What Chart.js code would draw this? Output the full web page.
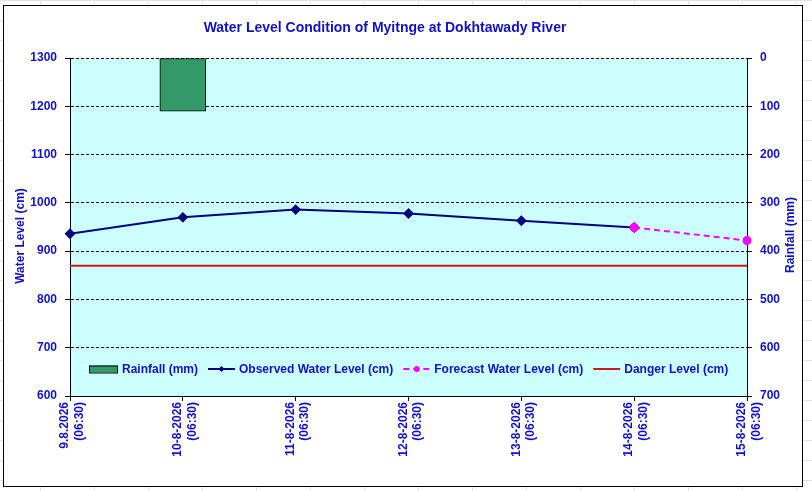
<!DOCTYPE html>
<html>
<head>
<meta charset="utf-8">
<script src="https://cdn.jsdelivr.net/npm/chart.js@4.4.1/dist/chart.umd.min.js"></script>
<style>
  html, body { margin: 0; padding: 0; }
  body {
    width: 812px; height: 491px; overflow: hidden;
    background-color: #fff;
    background-image: linear-gradient(to right, #e2e2e2 1px, transparent 1px),
                      linear-gradient(to bottom, #e2e2e2 1px, transparent 1px);
    background-size: 54px 20px;
    background-position: 40px 0;
  }
  #wrap { position: absolute; left: 0; top: 0; width: 812px; height: 491px; }
</style>
</head>
<body>
<div id="wrap"><canvas id="chart"></canvas></div>
<script>
const categories = [
    ['9.8.2026', '(06:30)'],
    ['10-8-2026', '(06:30)'],
    ['11-8-2026', '(06:30)'],
    ['12-8-2026', '(06:30)'],
    ['13-8-2026', '(06:30)'],
    ['14-8-2026', '(06:30)'],
    ['15-8-2026', '(06:30)']
];
const rainfall = [null, 110, null, null, null, null, null];
const observed = [936, 970, 986, 978, 963, 949, null];
const forecast = [null, null, null, null, null, 949, 922];
const danger = [870, 870, 870, 870, 870, 870, 870];

const TITLE = 'Water Level Condition of Myitnge at Dokhtawady River';
const BLUE = '#1010c8';
const FONT = '"Liberation Sans", Arial, sans-serif';

// frame, plot background, titles and the legend inside the plot
const decor = {
    id: 'decor',
    beforeDraw(chart) {
        const ctx = chart.ctx;
        const a = chart.chartArea;
        ctx.save();
        ctx.fillStyle = '#fff';
        ctx.fillRect(3, 5, 799, 481);
        ctx.strokeStyle = '#000';
        ctx.lineWidth = 1;
        ctx.strokeRect(3.5, 5.5, 799, 481);
        ctx.fillStyle = '#ccffff';
        ctx.fillRect(a.left, a.top, a.right - a.left, a.bottom - a.top);
        ctx.restore();
    },
    afterDraw(chart) {
        const ctx = chart.ctx;
        const a = chart.chartArea;
        const midY = (a.top + a.bottom) / 2;
        ctx.save();
        ctx.fillStyle = BLUE;
        ctx.textAlign = 'center';
        ctx.textBaseline = 'middle';
        ctx.font = 'bold 14px ' + FONT;
        ctx.fillText(TITLE, 385, 28);

        ctx.font = 'bold 12px ' + FONT;
        ctx.save();
        ctx.translate(21, midY + 9);
        ctx.rotate(-Math.PI / 2);
        ctx.fillText('Water Level (cm)', 0, 0);
        ctx.restore();
        ctx.save();
        ctx.translate(791, midY + 8);
        ctx.rotate(-Math.PI / 2);
        ctx.fillText('Rainfall (mm)', 0, 0);
        ctx.restore();

        // legend
        let x = a.left + 19;
        const y = a.bottom - 27;
        ctx.textAlign = 'left';
        chart.data.datasets.forEach(ds => {
            if (ds.type === 'bar') {
                ctx.fillStyle = ds.backgroundColor;
                ctx.fillRect(x, y - 3.5, 29, 7);
                ctx.strokeStyle = '#000';
                ctx.lineWidth = 1;
                ctx.strokeRect(x + 0.5, y - 3, 28, 7);
                x += 33;
            } else {
                ctx.strokeStyle = ds.borderColor;
                ctx.lineWidth = ds.borderWidth;
                ctx.setLineDash(ds.borderDash || []);
                ctx.beginPath();
                ctx.moveTo(x, y);
                ctx.lineTo(x + 27, y);
                ctx.stroke();
                ctx.setLineDash([]);
                const cx = x + 13.5;
                ctx.fillStyle = ds.pointBackgroundColor;
                if (ds.pointStyle === 'rectRot' && ds.pointRadius) {
                    ctx.beginPath();
                    ctx.moveTo(cx, y - 3);
                    ctx.lineTo(cx + 3, y);
                    ctx.lineTo(cx, y + 3);
                    ctx.lineTo(cx - 3, y);
                    ctx.closePath();
                    ctx.fill();
                } else if (ds.pointRadius) {
                    ctx.beginPath();
                    ctx.arc(cx, y, 3, 0, Math.PI * 2);
                    ctx.fill();
                }
                x += 31;
            }
            ctx.fillStyle = BLUE;
            ctx.fillText(ds.label, x, y + 1);
            x += ctx.measureText(ds.label).width + 10;
        });
        ctx.restore();
    }
};

const plainNumber = v => String(v);

new Chart(document.getElementById('chart'), {
    data: {
        labels: categories,
        datasets: [
            {
                type: 'bar',
                label: 'Rainfall (mm)',
                data: rainfall,
                yAxisID: 'y1',
                backgroundColor: '#339966',
                borderColor: '#000',
                borderWidth: 1,
                borderSkipped: false,
                barThickness: 46,
                order: 4
            },
            {
                type: 'line',
                label: 'Observed Water Level (cm)',
                data: observed,
                yAxisID: 'y',
                borderColor: '#000080',
                backgroundColor: '#000080',
                pointBackgroundColor: '#000080',
                pointBorderColor: '#000080',
                pointStyle: 'rectRot',
                pointRadius: 4,
                borderWidth: 2,
                tension: 0,
                order: 2
            },
            {
                type: 'line',
                label: 'Forecast Water Level (cm)',
                data: forecast,
                yAxisID: 'y',
                borderColor: '#ff00ff',
                backgroundColor: '#ff00ff',
                pointBackgroundColor: '#ff00ff',
                pointBorderColor: '#ff00ff',
                pointStyle: 'circle',
                pointRadius: 3.5,
                borderWidth: 2,
                borderDash: [6, 4],
                tension: 0,
                order: 1
            },
            {
                type: 'line',
                label: 'Danger Level (cm)',
                data: danger,
                yAxisID: 'y',
                borderColor: '#cc1a1a',
                backgroundColor: '#cc1a1a',
                pointRadius: 0,
                borderWidth: 2,
                tension: 0,
                order: 3
            }
        ]
    },
    options: {
        responsive: true,
        maintainAspectRatio: false,
        animation: false,
        layout: { padding: { top: 58, left: 0, right: 0, bottom: 0 } },
        plugins: {
            legend: { display: false },
            title: { display: false },
            tooltip: { enabled: false }
        },
        scales: {
            x: {
                offset: false,
                grid: { offset: false, drawOnChartArea: false, color: '#000', tickLength: 5 },
                border: { color: '#000', width: 1 },
                ticks: {
                    color: BLUE,
                    font: { family: FONT, size: 12, weight: 'bold' },
                    maxRotation: 90,
                    minRotation: 90,
                    padding: 1,
                    labelOffset: -5,
                    autoSkip: false
                },
                afterFit(scale) { scale.height = 95; }
            },
            y: {
                position: 'left',
                min: 600,
                max: 1300,
                ticks: {
                    stepSize: 100,
                    color: BLUE,
                    font: { family: FONT, size: 12, weight: 'bold' },
                    padding: 8,
                    callback: plainNumber
                },
                grid: { color: '#000', tickLength: 5, tickBorderDash: [] },
                border: { color: '#000', width: 1, dash: [3, 2] },
                afterFit(scale) { scale.width = 70; }
            },
            y1: {
                position: 'right',
                reverse: true,
                min: 0,
                max: 700,
                ticks: {
                    stepSize: 100,
                    color: BLUE,
                    font: { family: FONT, size: 12, weight: 'bold' },
                    padding: 8,
                    callback: plainNumber
                },
                grid: { drawOnChartArea: false, color: '#000', tickLength: 5 },
                border: { color: '#000', width: 1 },
                afterFit(scale) { scale.width = 65; }
            }
        }
    },
    plugins: [decor]
});
</script>
</body>
</html>
